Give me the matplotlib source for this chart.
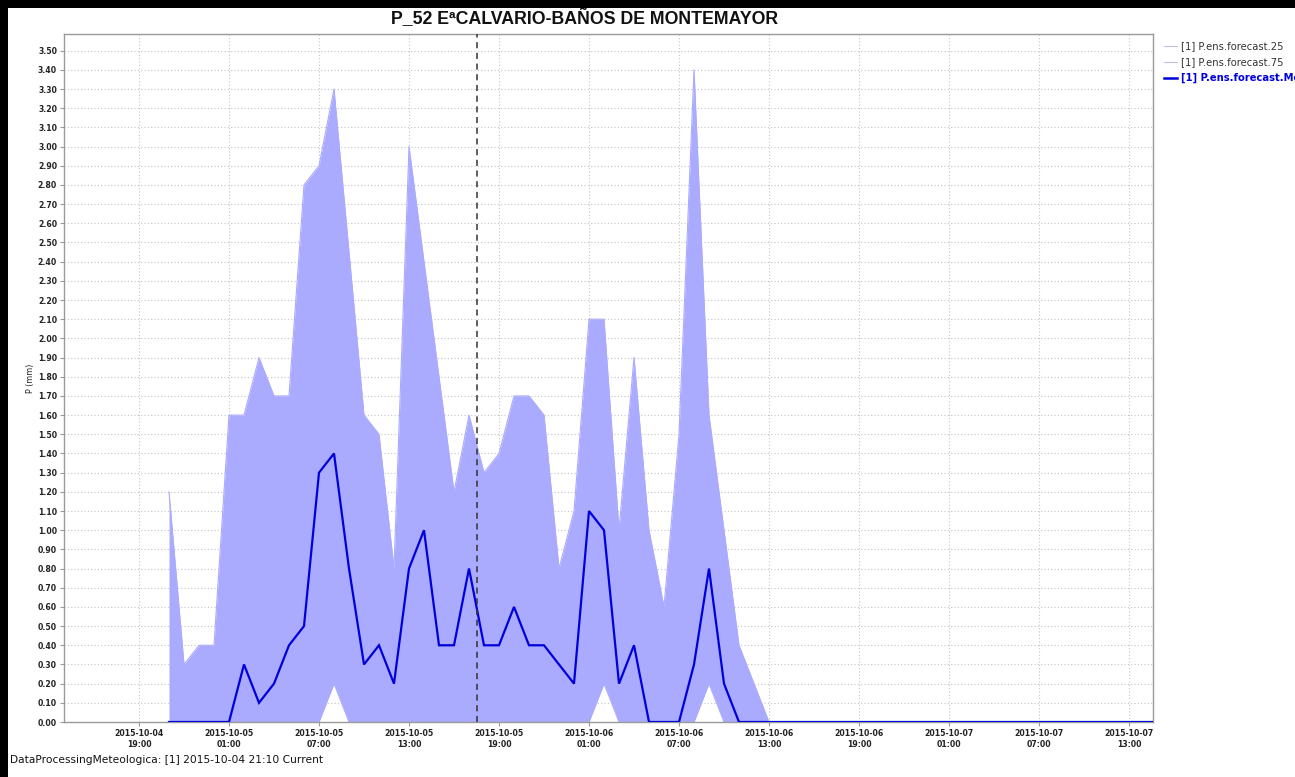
import numpy as np
import pandas as pd
import matplotlib
matplotlib.use("Agg")
import matplotlib.pyplot as plt
import matplotlib.dates as mdates
from matplotlib.patches import Rectangle
from matplotlib.ticker import MultipleLocator, FormatStrFormatter

# ---------------- data (hourly, from 2015-10-04 21:00) ----------------
start_time = "2015-10-04 21:00"
p_mean = [0.0, 0.0, 0.0, 0.0, 0.0, 0.3, 0.1, 0.2, 0.4, 0.5,
          1.3, 1.4, 0.8, 0.3, 0.4, 0.2, 0.8, 1.0, 0.4, 0.4,
          0.8, 0.4, 0.4, 0.6, 0.4, 0.4, 0.3, 0.2, 1.1, 1.0,
          0.2, 0.4, 0.0, 0.0, 0.0, 0.3, 0.8, 0.2, 0.0, 0.0,
          0.0, 0.0, 0.0, 0.0, 0.0, 0.0, 0.0, 0.0, 0.0, 0.0,
          0.0, 0.0, 0.0, 0.0, 0.0, 0.0, 0.0, 0.0, 0.0, 0.0,
          0.0, 0.0, 0.0, 0.0, 0.0, 0.0, 0.0]
p_q75 = [1.2, 0.3, 0.4, 0.4, 1.6, 1.6, 1.9, 1.7, 1.7, 2.8,
         2.9, 3.3, 2.45, 1.6, 1.5, 0.8, 3.0, 2.4, 1.8, 1.2,
         1.6, 1.3, 1.4, 1.7, 1.7, 1.6, 0.8, 1.1, 2.1, 2.1,
         1.0, 1.9, 1.0, 0.6, 1.5, 3.4, 1.6, 1.0, 0.4, 0.2,
         0.0, 0.0, 0.0, 0.0, 0.0, 0.0, 0.0, 0.0, 0.0, 0.0,
         0.0, 0.0, 0.0, 0.0, 0.0, 0.0, 0.0, 0.0, 0.0, 0.0,
         0.0, 0.0, 0.0, 0.0, 0.0, 0.0, 0.0]
p_q25 = [0.0, 0.0, 0.0, 0.0, 0.0, 0.0, 0.0, 0.0, 0.0, 0.0,
         0.0, 0.2, 0.0, 0.0, 0.0, 0.0, 0.0, 0.0, 0.0, 0.0,
         0.0, 0.0, 0.0, 0.0, 0.0, 0.0, 0.0, 0.0, 0.0, 0.2,
         0.0, 0.0, 0.0, 0.0, 0.0, 0.0, 0.2, 0.0, 0.0, 0.0,
         0.0, 0.0, 0.0, 0.0, 0.0, 0.0, 0.0, 0.0, 0.0, 0.0,
         0.0, 0.0, 0.0, 0.0, 0.0, 0.0, 0.0, 0.0, 0.0, 0.0,
         0.0, 0.0, 0.0, 0.0, 0.0, 0.0, 0.0]
current_marker = "2015-10-05 17:30"
x_start = "2015-10-04 14:00"
x_end = "2015-10-07 14:36"
series_labels = ["[1] P.ens.forecast.25", "[1] P.ens.forecast.75",
                 "[1] P.ens.forecast.Mean"]
title = "P_52 EªCALVARIO-BAÑOS DE MONTEMAYOR"
footer = "DataProcessingMeteologica: [1] 2015-10-04 21:10 Current"

times = pd.date_range(start_time, periods=len(p_mean), freq="h")

# ---------------- figure ----------------
W, H = 1295, 777
fig = plt.figure(figsize=(W / 100, H / 100), dpi=100, facecolor="white")
L, R, T, B = 64, 1153, 34, 722
ax = fig.add_axes([L / W, 1 - B / H, (R - L) / W, (B - T) / H])

fill_col = "#aaaaff"
ax.fill_between(times, p_q25, p_q75, color=fill_col, lw=0, zorder=2)
l25, = ax.plot(times, p_q25, color=fill_col, lw=0.8, zorder=2)
l75, = ax.plot(times, p_q75, color=fill_col, lw=0.8, zorder=2)
lmean, = ax.plot(times, p_mean, color="#0000dd", lw=1.6, zorder=4,
                 solid_joinstyle="miter")

ax.axvline(pd.Timestamp(current_marker), color="#333333", lw=1.1,
           dashes=(4, 3), zorder=5)

ax.set_xlim(pd.Timestamp(x_start), pd.Timestamp(x_end))
ax.set_ylim(0, 3.587)

ax.yaxis.set_major_locator(MultipleLocator(0.1))
ax.yaxis.set_major_formatter(FormatStrFormatter("%.2f"))
ax.xaxis.set_major_locator(mdates.HourLocator(byhour=[1, 7, 13, 19]))
ax.xaxis.set_major_formatter(mdates.DateFormatter("%Y-%m-%d\n%H:%M"))

ax.grid(True, color="#c4c4c4", lw=0.8, dashes=(1, 2), zorder=1)
ax.set_axisbelow(True)
for s in ax.spines.values():
    s.set_color("#9a9a9a")
    s.set_linewidth(1.0)
ax.tick_params(axis="both", colors="#9a9a9a", length=3, width=0.8,
               labelsize=5.6, labelcolor="#222222", pad=2)
for lab in ax.get_xticklabels() + ax.get_yticklabels():
    lab.set_fontweight("bold")
for lab in ax.get_xticklabels():
    lab.set_linespacing(1.3)

ax.set_ylabel("P (mm)", fontsize=5.8, color="#222222", labelpad=2)

# title
fig.text(585 / W, 1 - 19 / H, title, ha="center", va="center",
         fontsize=12.8, fontweight="bold", family="Liberation Sans",
         color="#111111")

# footer
fig.text(10 / W, 1 - 760 / H, footer, ha="left", va="center",
         fontsize=7.7, color="#111111")

# legend
leg = fig.legend([l25, l75, lmean], series_labels, loc="upper left",
                 bbox_to_anchor=(1164 / W, 1 - 41 / H), frameon=False,
                 fontsize=7.2, handlelength=1.3, handletextpad=0.4,
                 labelspacing=0.6, borderaxespad=0, borderpad=0)
leg.get_lines()[0].set_color("#c0c0dc")
leg.get_lines()[1].set_color("#c0c0dc")
leg.get_lines()[2].set_linewidth(1.8)
texts = leg.get_texts()
texts[0].set_color("#333333")
texts[1].set_color("#333333")
texts[2].set_color("#0000dd")
texts[2].set_fontweight("bold")

# black frame strips (top and left)
fig.patches.append(Rectangle((0, 1 - 8 / H), 1, 8 / H, transform=fig.transFigure,
                             facecolor="black", edgecolor="none", zorder=10))
fig.patches.append(Rectangle((0, 0), 8 / W, 1, transform=fig.transFigure,
                             facecolor="black", edgecolor="none", zorder=10))

fig.savefig("out.png", dpi=100, facecolor="white")
